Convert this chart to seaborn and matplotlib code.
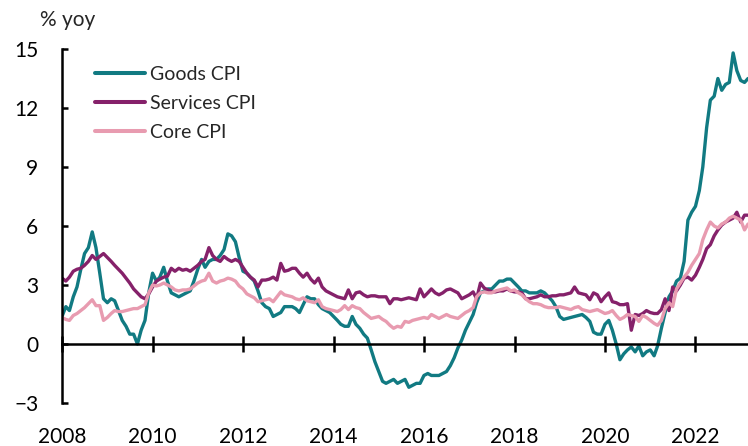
import matplotlib

matplotlib.use("Agg")
import matplotlib.dates as mdates
import matplotlib.pyplot as plt
import pandas as pd
import seaborn as sns

# monthly % yoy, Jan 2008 .. Mar 2023
goods = [
    1.4, 1.9, 1.7, 2.4, 2.9, 3.8, 4.6, 4.9, 5.7, 4.9, 3.6, 2.3,
    2.1, 2.3, 2.2, 1.7, 1.2, 0.9, 0.5, 0.5, 0.0, 0.7, 1.2, 2.6,
    3.6, 3.2, 3.4, 3.9, 3.2, 2.6, 2.5, 2.4, 2.5, 2.6, 2.7, 3.2,
    3.8, 4.3, 3.9, 4.2, 4.3, 4.3, 4.5, 4.8, 5.6, 5.5, 5.2, 4.4,
    3.7, 3.6, 3.4, 3.2, 2.7, 2.1, 1.9, 1.8, 1.4, 1.5, 1.6, 1.9,
    1.9, 1.9, 1.8, 1.6, 2.0, 2.4, 2.3, 2.3, 2.0, 1.8, 1.7, 1.6,
    1.4, 1.2, 1.0, 0.9, 0.9, 1.4, 1.0, 0.8, 0.5, 0.3, -0.3, -0.9,
    -1.4, -1.9, -2.0, -1.9, -1.8, -2.0, -1.9, -1.8, -2.2, -2.1, -2.0, -2.0,
    -1.6, -1.5, -1.6, -1.6, -1.6, -1.5, -1.4, -1.1, -0.7, -0.2, 0.2, 0.7,
    1.1, 1.5, 2.1, 2.6, 2.7, 2.8, 2.8, 3.0, 3.2, 3.2, 3.3, 3.3,
    3.1, 2.9, 2.7, 2.7, 2.6, 2.6, 2.6, 2.7, 2.6, 2.4, 2.2, 1.9,
    1.4, 1.25, 1.3, 1.35, 1.4, 1.45, 1.5, 1.35, 1.15, 0.6, 0.5, 0.5,
    1.0, 1.2, 0.7, 0.0, -0.8, -0.5, -0.3, -0.15, -0.4, -0.1, -0.6, -0.4,
    -0.3, -0.6, -0.1, 0.8, 1.6, 2.4, 2.7, 3.2, 3.35, 4.2, 6.3, 6.7,
    7.0, 7.8, 9.0, 11.0, 12.4, 12.6, 13.5, 12.9, 13.2, 13.3, 14.8, 13.9,
    13.4, 13.3, 13.5,
]
services = [
    3.35, 3.2, 3.4, 3.7, 3.8, 3.85, 4.0, 4.2, 4.5, 4.3, 4.45, 4.6,
    4.4, 4.2, 4.0, 3.8, 3.6, 3.35, 3.1, 2.8, 2.6, 2.4, 2.3, 2.55,
    2.9, 3.2, 3.3, 3.4, 3.45, 3.85, 3.7, 3.85, 3.75, 3.8, 3.7, 3.85,
    4.0, 4.2, 4.3, 4.9, 4.5, 4.3, 4.2, 4.45, 4.3, 4.2, 4.3, 4.2,
    3.9, 3.6, 3.4, 3.25, 2.9, 3.25, 3.25, 3.3, 3.4, 3.25, 4.1, 3.7,
    3.75, 3.85, 3.85, 3.6, 3.4, 3.6, 3.3, 3.1, 3.35, 2.9, 2.7, 2.6,
    2.5, 2.4, 2.35, 2.3, 2.75, 2.3, 2.6, 2.65, 2.5, 2.4, 2.45, 2.45,
    2.4, 2.4, 2.4, 2.05, 2.3, 2.3, 2.25, 2.3, 2.35, 2.3, 2.25, 2.8,
    2.4, 2.6, 2.8, 2.6, 2.5, 2.6, 2.75, 2.8, 2.7, 2.6, 2.3, 2.4,
    2.5, 2.65, 2.3, 3.1, 2.85, 2.75, 2.65, 2.65, 2.7, 2.7, 2.8, 2.7,
    2.65, 2.65, 2.6, 2.3, 2.3, 2.35, 2.4, 2.5, 2.4, 2.4, 2.45, 2.45,
    2.5, 2.5, 2.55, 2.6, 2.9, 2.6, 2.55, 2.5, 2.25, 2.6, 2.5, 2.15,
    2.4, 2.6, 2.15, 2.1, 2.0, 2.0, 2.05, 0.7, 1.5, 1.45, 1.55, 1.7,
    1.6, 1.55, 1.55, 1.75, 2.3, 1.7, 2.9, 2.7, 3.0, 3.35, 3.4, 3.25,
    3.5, 3.9, 4.3, 4.85, 5.05, 5.5, 5.8, 6.05, 6.2, 6.3, 6.4, 6.7,
    6.2, 6.55, 6.55,
]
core = [
    1.35, 1.25, 1.2, 1.45, 1.55, 1.7, 1.85, 2.05, 2.25, 1.95, 1.95, 1.2,
    1.35, 1.55, 1.7, 1.65, 1.65, 1.7, 1.75, 1.8, 1.8, 1.9, 2.0, 2.6,
    3.0, 2.95, 3.0, 3.1, 3.0, 2.9, 2.75, 2.7, 2.75, 2.75, 2.8, 2.95,
    3.1, 3.2, 3.25, 3.6, 3.2, 3.1, 3.2, 3.25, 3.35, 3.3, 3.2, 2.95,
    2.8, 2.55, 2.45, 2.35, 2.15, 2.2, 2.25, 2.3, 2.15, 2.4, 2.65, 2.5,
    2.45, 2.4, 2.3, 2.25, 2.35, 2.2, 2.15, 2.1, 2.25, 1.9, 1.8, 1.75,
    1.7, 1.65, 1.75, 1.95, 1.75, 1.95, 1.85, 1.8, 1.6, 1.45, 1.3, 1.35,
    1.4, 1.25, 1.15, 0.95, 0.8, 0.9, 0.85, 1.15, 1.1, 1.2, 1.25, 1.3,
    1.35, 1.3, 1.5, 1.4, 1.3, 1.4, 1.5, 1.4, 1.35, 1.3, 1.45, 1.6,
    1.7, 1.85, 2.4, 2.6, 2.65, 2.6, 2.6, 2.7, 2.75, 2.8, 2.85, 2.7,
    2.75, 2.6, 2.5, 2.3, 2.15, 2.05, 2.05, 2.0, 1.9, 1.85, 1.85, 1.85,
    1.9, 1.85, 1.8, 1.75, 1.85, 1.9, 1.75, 1.7, 1.65, 1.7, 1.75, 1.65,
    1.55, 1.6, 1.7, 1.45, 1.25, 1.35, 1.5, 1.45, 1.4, 1.15, 1.45, 1.35,
    1.2, 1.05, 0.95, 1.2, 1.8, 2.1, 1.9, 2.8, 3.1, 3.4, 3.65, 4.0,
    4.3, 4.6, 5.3, 5.8, 6.2, 6.0, 5.9, 6.1, 6.2, 6.4, 6.5, 6.4,
    6.3, 5.8, 6.1,
]
series_names = ["Goods CPI", "Services CPI", "Core CPI"]
colors = ["#117A82", "#85216A", "#E89BB0"]
y_ticks = [-3, 0, 3, 6, 9, 12, 15]

dates = pd.date_range("2008-01-01", periods=len(goods), freq="MS")
df = pd.DataFrame(
    {"date": dates, "Goods CPI": goods, "Services CPI": services, "Core CPI": core}
)
long = df.melt(id_vars="date", var_name="series", value_name="yoy")

sns.set_style("ticks")
plt.rcParams["font.family"] = ["Lato", "DejaVu Sans"]

fig = plt.figure(figsize=(7.48, 4.46), dpi=100)
ax = fig.add_axes([62 / 748, 43 / 446, 686 / 748, 354 / 446])

sns.lineplot(
    data=long,
    x="date",
    y="yoy",
    hue="series",
    hue_order=series_names,
    palette=dict(zip(series_names, colors)),
    linewidth=2.4,
    ax=ax,
)

handles, labels = ax.get_legend_handles_labels()
leg = ax.legend(
    handles,
    labels,
    loc="upper left",
    bbox_to_anchor=(0.048, 0.953),
    frameon=False,
    fontsize=14,
    handlelength=2.6,
    handletextpad=0.25,
    labelspacing=0.63,
    borderpad=0,
    borderaxespad=0,
)
for line in leg.get_lines():
    line.set_linewidth(2.9)

ax.set_ylim(-3, 15)
ax.set_yticks(y_ticks)
ax.set_xlim(dates[0], dates[-1])
ax.xaxis.set_major_locator(mdates.YearLocator(2))
ax.xaxis.set_major_formatter(mdates.DateFormatter("%Y"))
ax.set_xlabel("")
ax.set_ylabel("")

for side in ("top", "right"):
    ax.spines[side].set_visible(False)
ax.spines["bottom"].set_position(("data", 0))
for side in ("left", "bottom"):
    ax.spines[side].set_linewidth(1.8)
    ax.spines[side].set_color("black")

ax.tick_params(axis="y", direction="in", length=4, width=1.8, pad=17,
               labelsize=15, colors="black")
ax.tick_params(axis="x", direction="inout", length=11, width=1.8, pad=54,
               labelsize=15, colors="black")

fig.text(40 / 748, 1 - 20 / 446, "% yoy", fontsize=15, va="center", ha="left")

fig.savefig("out.png", dpi=100)
